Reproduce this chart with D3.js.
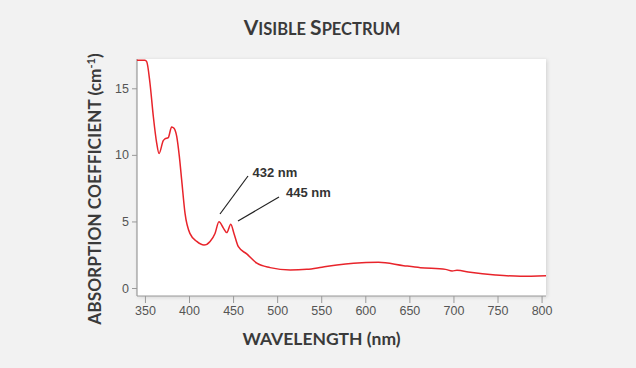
<!DOCTYPE html>
<html><head><meta charset="utf-8">
<script src="https://cdn.jsdelivr.net/npm/d3@7"></script>
<style>
html,body{margin:0;padding:0;background:#f2f2f2;}
svg{display:block;}
</style></head>
<body>
<svg id="chart" width="636" height="368"></svg>
<script>
const wavelength = [341, 350, 352, 355.7, 359.5, 363.3, 366, 370.8, 372.7, 376.5, 380.3, 383, 386, 389, 391.7, 395.5, 401, 408.8, 417, 423.9, 429.5, 434, 439, 442.8, 447.4, 451, 456, 465.5, 477, 492, 514.8, 533.7, 550.8, 567.8, 586.7, 615, 643.5, 662.5, 691, 698.5, 704, 719, 747.7, 776, 805];
const absorption = [17.1, 17.1, 17.0, 15.4, 12.9, 10.9, 10.1, 11.07, 11.2, 11.3, 12.1, 12.0, 11.4, 9.9, 8.1, 5.6, 4.1, 3.5, 3.23, 3.5, 4.1, 4.98, 4.5, 4.16, 4.79, 4.1, 3.1, 2.56, 1.86, 1.53, 1.35, 1.4, 1.56, 1.73, 1.86, 1.93, 1.68, 1.53, 1.4, 1.28, 1.33, 1.18, 0.98, 0.88, 0.92];
const xTicks = [350, 400, 450, 500, 550, 600, 650, 700, 750, 800];
const yTicks = [0, 5, 10, 15];
const annotations = [
  {label: "432 nm", peak: 432},
  {label: "445 nm", peak: 445}
];

const svg = d3.select("#chart");
const L = 137, R = 546, T = 59, B = 296;
const x = d3.scaleLinear().domain([341, 805]).range([L, R]);
const y = d3.scaleLinear().domain([-0.6, 17.2]).range([B, T]);

const defs = svg.append("defs");
const f = defs.append("filter").attr("id","sh").attr("x","-5%").attr("y","-5%").attr("width","110%").attr("height","110%");
f.append("feGaussianBlur").attr("in","SourceAlpha").attr("stdDeviation",2);
f.append("feOffset").attr("dx",1).attr("dy",1).attr("result","b");
f.append("feComponentTransfer").append("feFuncA").attr("type","linear").attr("slope",0.15);
const m = f.append("feMerge"); m.append("feMergeNode"); m.append("feMergeNode").attr("in","SourceGraphic");
defs.append("clipPath").attr("id","clip").append("rect").attr("x",L).attr("y",T).attr("width",R-L).attr("height",B-T);

svg.append("rect").attr("x",L).attr("y",T).attr("width",R-L).attr("height",B-T).attr("fill","#fff").attr("filter","url(#sh)");

const tickFont = "'Liberation Sans', Arial, sans-serif";
const xAxis = svg.append("g").attr("transform",`translate(0,${B})`)
  .call(d3.axisBottom(x).tickValues(xTicks).tickSize(7).tickSizeOuter(0).tickPadding(3));
const yAxis = svg.append("g").attr("transform",`translate(${L},0)`)
  .call(d3.axisLeft(y).tickValues(yTicks).tickSize(5).tickSizeOuter(0).tickPadding(3));
[xAxis, yAxis].forEach(g => {
  g.select(".domain").attr("stroke","#9a9a9a").attr("stroke-width",1.2);
  g.selectAll(".tick line").attr("stroke","#9a9a9a");
  g.selectAll(".tick text").attr("fill","#555").style("font-family",tickFont).style("font-size","12.5px");
});
yAxis.select(".domain").attr("d",`M0,${T}V${B}`);
xAxis.select(".domain").attr("d",`M${L},0H${R}`);

const line = d3.line().x((d,i)=>x(wavelength[i])).y((d,i)=>y(absorption[i])).curve(d3.curveMonotoneX);
svg.append("path").datum(absorption).attr("clip-path","url(#clip)")
  .attr("d",line).attr("fill","none").attr("stroke","#e8242b").attr("stroke-width",1.5);

const annFont = "'Liberation Sans', Arial, sans-serif";
const ann = [
  {x1: 220, y1: 214, x2: 248, y2: 176, tx: 252.5, ty: 177},
  {x1: 238, y1: 221, x2: 279, y2: 197, tx: 286, ty: 197}
];
annotations.forEach((a,i) => {
  const p = ann[i];
  svg.append("line").attr("x1",p.x1).attr("y1",p.y1).attr("x2",p.x2).attr("y2",p.y2).attr("stroke","#222").attr("stroke-width",1.2);
  svg.append("text").attr("x",p.tx).attr("y",p.ty).text(a.label)
    .style("font-family",annFont).style("font-weight","bold").style("font-size","13px").attr("fill","#333");
});

const labFont = "Lato, 'Open Sans', sans-serif";
const title = svg.append("text").attr("x",322).attr("y",35).attr("text-anchor","middle")
  .style("font-family",labFont).style("font-weight","bold").attr("fill","#3a3a3a");
title.append("tspan").text("V").style("font-size","21px");
title.append("tspan").text("ISIBLE ").style("font-size","16.5px");
title.append("tspan").text("S").style("font-size","21px");
title.append("tspan").text("PECTRUM").style("font-size","16.5px");

svg.append("text").attr("x",321.5).attr("y",345).attr("text-anchor","middle")
  .style("font-family",labFont).style("font-weight","bold").style("font-size","17.5px").attr("fill","#3a3a3a")
  .text("WAVELENGTH (nm)");

const yl = svg.append("text").attr("transform","translate(101,189) rotate(-90)").attr("text-anchor","middle")
  .style("font-family",labFont).style("font-weight","bold").style("font-size","17.3px").attr("fill","#3a3a3a");
yl.append("tspan").text("ABSORPTION COEFFICIENT (cm");
yl.append("tspan").text("-1").attr("dy",-6).style("font-size","11px");
yl.append("tspan").text(")").attr("dy",6);
</script>
</body></html>
